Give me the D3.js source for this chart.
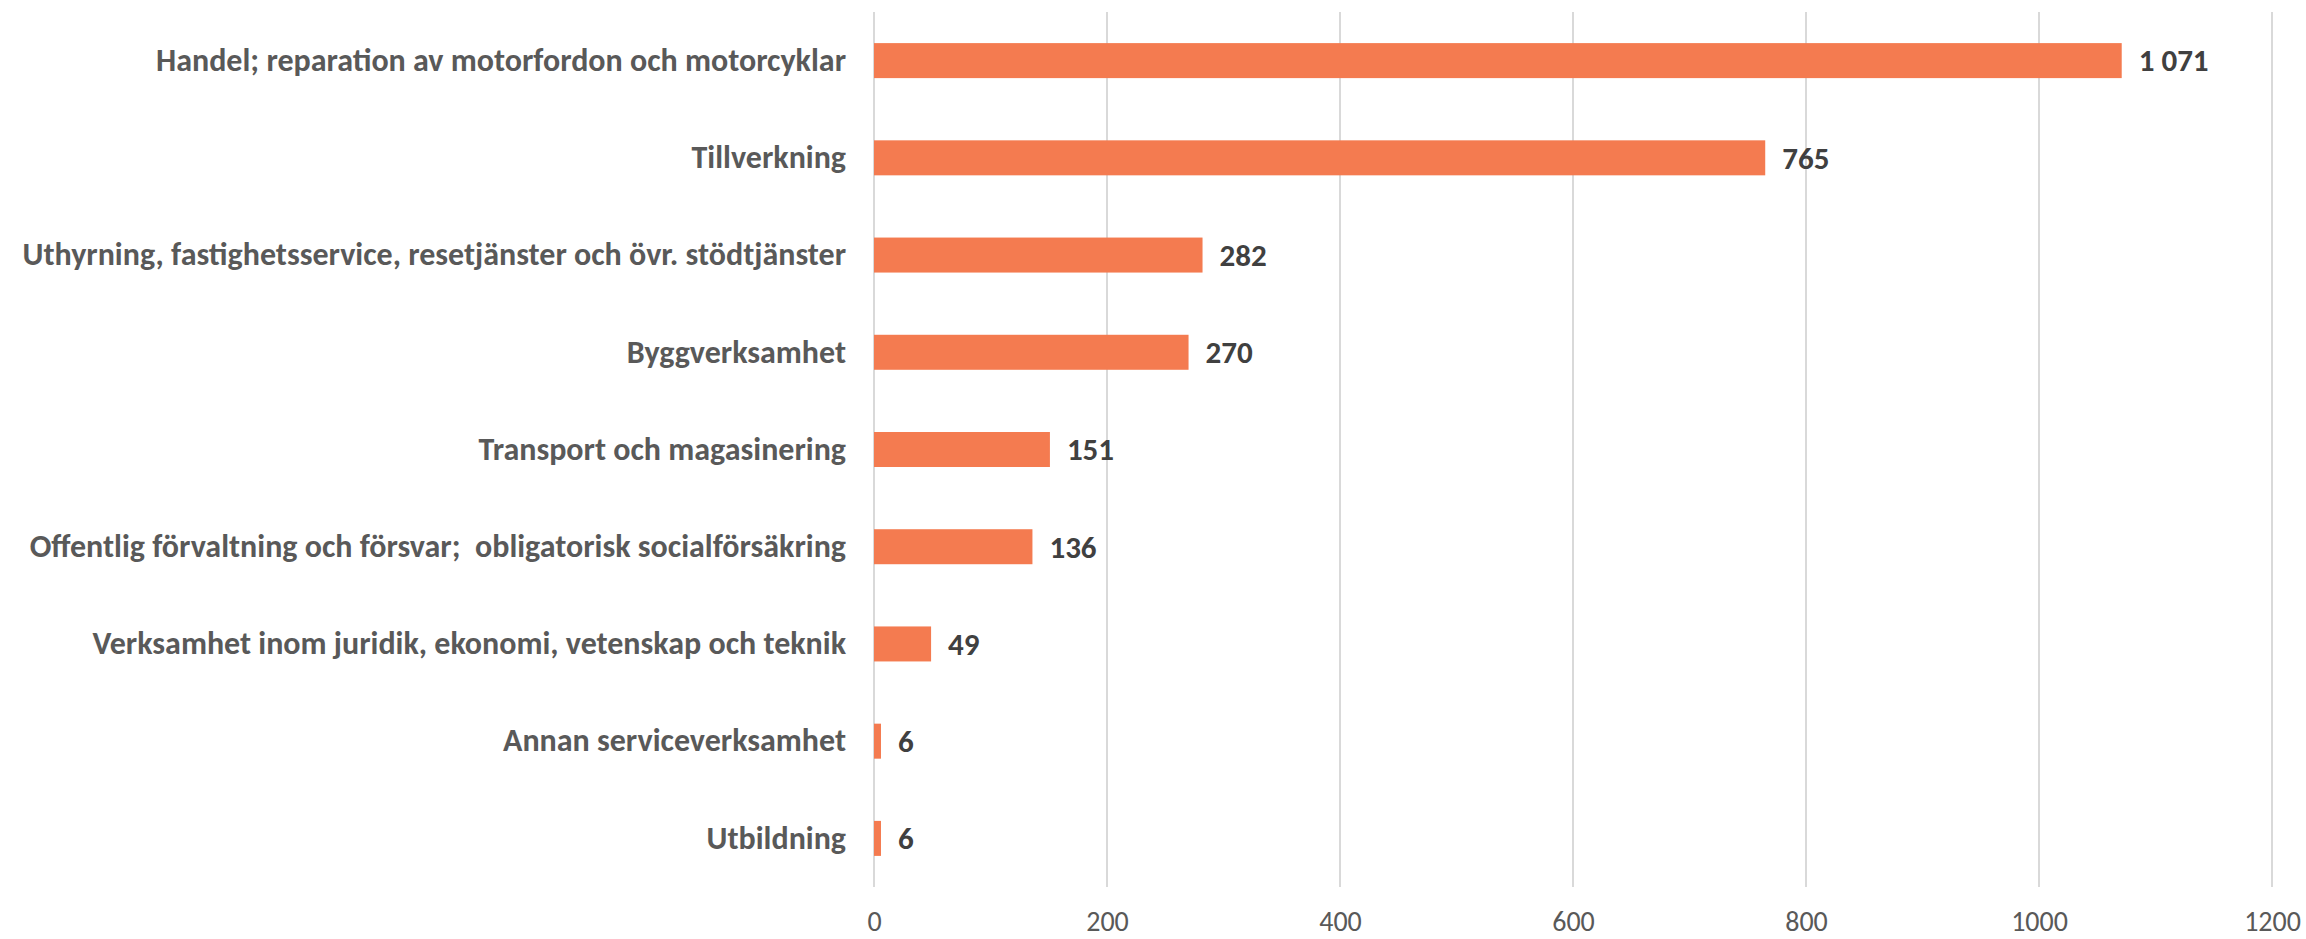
<!DOCTYPE html>
<html><head><meta charset="utf-8">
<script src="https://cdn.jsdelivr.net/npm/d3@7"></script>
<style>
html,body{margin:0;padding:0;background:#fff;}
svg{display:block;}
text{white-space:pre;}
</style></head>
<body>
<svg id="chart" width="2306" height="939"></svg>
<script>
const categories = [
  "Handel; reparation av motorfordon och motorcyklar",
  "Tillverkning",
  "Uthyrning, fastighetsservice, resetjänster och övr. stödtjänster",
  "Byggverksamhet",
  "Transport och magasinering",
  "Offentlig förvaltning och försvar;  obligatorisk socialförsäkring",
  "Verksamhet inom juridik, ekonomi, vetenskap och teknik",
  "Annan serviceverksamhet",
  "Utbildning"
];
const values = [1071, 765, 282, 270, 151, 136, 49, 6, 6];
const valueLabels = ["1 071", "765", "282", "270", "151", "136", "49", "6", "6"];
const xTicks = [0, 200, 400, 600, 800, 1000, 1200];

const svg = d3.select("#chart");
const FONT = "Carlito, Calibri, 'Liberation Sans', Arial, sans-serif";
const x = d3.scaleLinear().domain([0, 1200]).range([874, 2272]);
const y = d3.scaleBand().domain(categories).range([12, 887]).paddingInner(0.64).paddingOuter(0.32);

// gridlines
svg.append("g").selectAll("line").data(xTicks).join("line")
  .attr("x1", d => x(d)).attr("x2", d => x(d))
  .attr("y1", 12).attr("y2", 887)
  .attr("stroke", "#D9D9D9").attr("stroke-width", 2);

// x axis labels
const xAxis = d3.axisBottom(x).tickValues(xTicks).tickSize(0).tickPadding(0).tickFormat(d3.format("d"));
const gx = svg.append("g").attr("transform", "translate(0,921)").call(xAxis);
gx.select(".domain").remove();
gx.selectAll("text").attr("font-family", FONT).attr("font-size", 28)
  .attr("fill", "#595959").attr("dy", "0.35em");

// bars
svg.append("g").selectAll("rect").data(values).join("rect")
  .attr("x", x(0))
  .attr("y", (d, i) => y(categories[i]))
  .attr("width", d => x(d) - x(0))
  .attr("height", y.bandwidth())
  .attr("fill", "#F47B50");

// category labels
const yAxis = d3.axisLeft(y).tickSize(0).tickPadding(0);
const gy = svg.append("g").attr("transform", `translate(${x(0) - 28},0)`).call(yAxis);
gy.select(".domain").remove();
gy.selectAll("text").attr("font-family", FONT).attr("font-size", 32)
  .attr("font-weight", "bold").attr("fill", "#595959");

// value labels
svg.append("g").selectAll("text").data(values).join("text")
  .attr("x", d => x(d) + 17)
  .attr("y", (d, i) => y(categories[i]) + y.bandwidth() / 2)
  .attr("dy", "0.35em")
  .attr("font-family", FONT).attr("font-size", 31).attr("font-weight", "bold")
  .attr("fill", "#404040")
  .text((d, i) => valueLabels[i]);
</script>
</body></html>
